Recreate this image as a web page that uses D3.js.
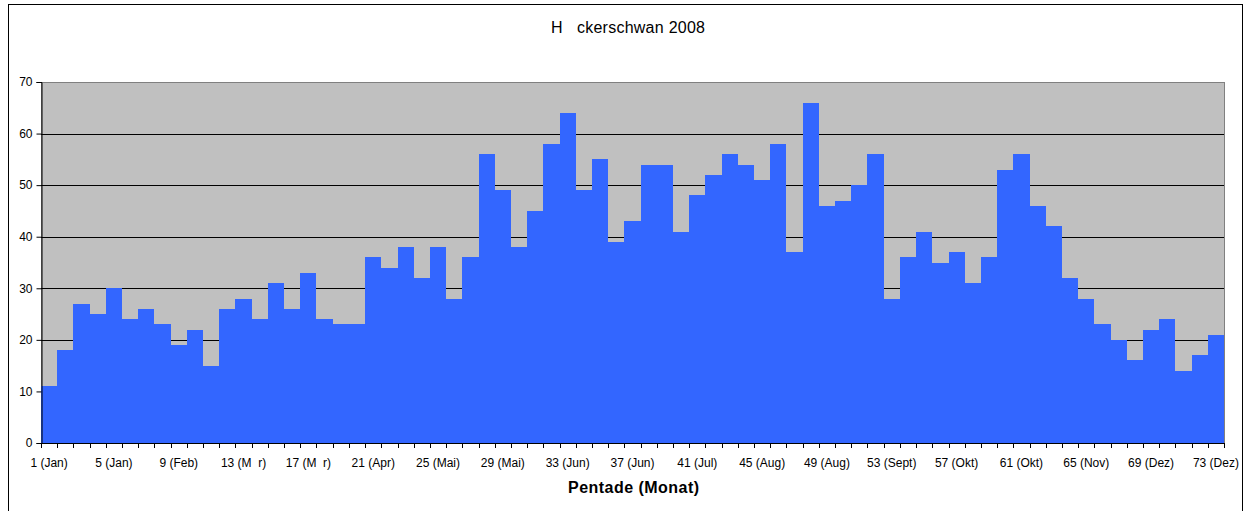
<!DOCTYPE html>
<html>
<head>
<meta charset="utf-8">
<script src="https://cdn.jsdelivr.net/npm/d3@7"></script>
<style>
  body { margin: 0; background: #fff; }
  svg { display: block; font-family: "Liberation Sans", Arial, sans-serif; }
  text { white-space: pre; }
</style>
</head>
<body>
<svg id="chart" width="1247" height="511"></svg>
<script>
// pentades 1..73
var pentades = d3.range(1, 74);
var counts = [11, 18, 27, 25, 30, 24, 26, 23, 19, 22, 15, 26, 28, 24, 31, 26, 33, 24, 23, 23,
  36, 34, 38, 32, 38, 28, 36, 56, 49, 38, 45, 58, 64, 49, 55, 39, 43, 54, 54, 41,
  48, 52, 56, 54, 51, 58, 37, 66, 46, 47, 50, 56, 28, 36, 41, 35, 37, 31, 36, 53,
  56, 46, 42, 32, 28, 23, 20, 16, 22, 24, 14, 17, 21];
var tickLabels = {
  1: "1 (Jan)", 5: "5 (Jan)", 9: "9 (Feb)", 13: "13 (M  r)", 17: "17 (M  r)",
  21: "21 (Apr)", 25: "25 (Mai)", 29: "29 (Mai)", 33: "33 (Jun)", 37: "37 (Jun)",
  41: "41 (Jul)", 45: "45 (Aug)", 49: "49 (Aug)", 53: "53 (Sept)", 57: "57 (Okt)",
  61: "61 (Okt)", 65: "65 (Nov)", 69: "69 (Dez)", 73: "73 (Dez)"
};
var yTicks = [0, 10, 20, 30, 40, 50, 60, 70];

var svg = d3.select("#chart");
var pLeft = 41, pRight = 1224, pTop = 82, pBottom = 443;

// outer frame
svg.append("rect")
  .attr("x", 8.5).attr("y", 4.5)
  .attr("width", 1234).attr("height", 520)
  .attr("fill", "#fff").attr("stroke", "#000").attr("stroke-width", 1);

svg.append("text")
  .attr("x", 551).attr("y", 33)
  .style("font-size", "16px")
  .attr("textLength", 154)
  .text("H   ckerschwan 2008");

var x = d3.scaleBand().domain(pentades).range([pLeft, pRight]).padding(0);
var y = d3.scaleLinear().domain([0, 70]).range([pBottom, pTop]);

// plot background
svg.append("rect")
  .attr("x", pLeft + 0.5).attr("y", pTop + 0.5)
  .attr("width", pRight - pLeft).attr("height", pBottom - pTop)
  .attr("fill", "#c0c0c0")
  .attr("stroke", "#808080").attr("stroke-width", 1);

// gridlines
svg.append("g").selectAll("line")
  .data(yTicks.filter(function(d){ return d > 0 && d < 70; }))
  .enter().append("line")
  .attr("x1", pLeft).attr("x2", pRight)
  .attr("y1", function(d){ return Math.round(y(d)) + 0.5; })
  .attr("y2", function(d){ return Math.round(y(d)) + 0.5; })
  .attr("stroke", "#000").attr("stroke-width", 1);

// bars
svg.append("g").selectAll("rect")
  .data(counts)
  .enter().append("rect")
  .attr("x", function(d, i){ return Math.round(x(pentades[i])); })
  .attr("y", function(d){ return Math.round(y(d)); })
  .attr("width", function(d, i){ return Math.round(x(pentades[i]) + x.step()) - Math.round(x(pentades[i])); })
  .attr("height", function(d){ return pBottom - Math.round(y(d)); })
  .attr("fill", "#3366ff")
  .attr("shape-rendering", "crispEdges");

// y axis
var yAxis = svg.append("g")
  .attr("transform", "translate(" + (pLeft + 0.5) + ",0)")
  .call(d3.axisLeft(y).tickValues(yTicks).tickSize(5).tickPadding(4));
yAxis.selectAll("text").style("font-size", "12px").attr("fill", "#000")
  .style("font-family", "'Liberation Sans', Arial, sans-serif");
yAxis.selectAll("line, path").attr("stroke", "#000");

// x axis: ticks at category boundaries, labels every 4th
var xAxisG = svg.append("g");
xAxisG.append("line")
  .attr("x1", pLeft).attr("x2", pRight)
  .attr("y1", pBottom + 0.5).attr("y2", pBottom + 0.5)
  .attr("stroke", "#000");
xAxisG.selectAll(".tk")
  .data(d3.range(0, pentades.length + 1))
  .enter().append("line")
  .attr("class", "tk")
  .attr("x1", function(i){ return Math.round(pLeft + i * x.step()) + 0.5; })
  .attr("x2", function(i){ return Math.round(pLeft + i * x.step()) + 0.5; })
  .attr("y1", pBottom).attr("y2", pBottom + 5)
  .attr("stroke", "#000");
xAxisG.selectAll(".lbl")
  .data(pentades.filter(function(p){ return tickLabels[p]; }))
  .enter().append("text")
  .attr("class", "lbl")
  .attr("x", function(p){ return x(p) + x.bandwidth() / 2; })
  .attr("y", pBottom + 24)
  .attr("text-anchor", "middle")
  .style("font-size", "12px")
  .text(function(p){ return tickLabels[p]; });

svg.append("text")
  .attr("x", 568).attr("y", 493)
  .style("font-size", "16px").style("font-weight", "bold")
  .attr("textLength", 131)
  .text("Pentade (Monat)");
</script>
</body>
</html>
